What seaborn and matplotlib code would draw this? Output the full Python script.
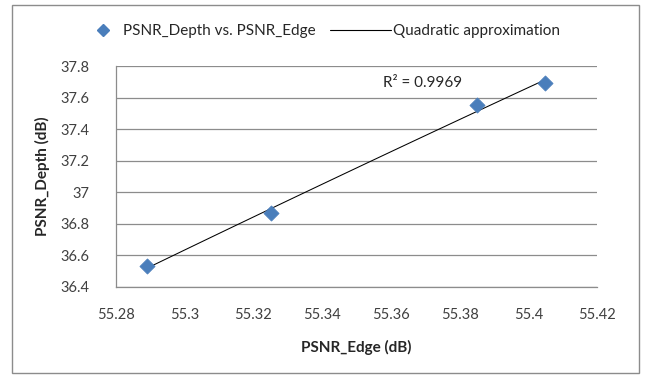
import numpy as np
import pandas as pd
import matplotlib
matplotlib.use("Agg")
import matplotlib.pyplot as plt
import seaborn as sns
from matplotlib.lines import Line2D
from matplotlib.patches import Rectangle

psnr_edge = [55.289, 55.325, 55.385, 55.405]
psnr_depth = [36.53, 36.87, 37.55, 37.69]
r2_label = "R² = 0.9969"
x_ticks = [55.28, 55.30, 55.32, 55.34, 55.36, 55.38, 55.40, 55.42]
x_tick_labels = ["55.28", "55.3", "55.32", "55.34", "55.36", "55.38", "55.4", "55.42"]
y_ticks = [36.4, 36.6, 36.8, 37.0, 37.2, 37.4, 37.6, 37.8]
y_tick_labels = ["36.4", "36.6", "36.8", "37", "37.2", "37.4", "37.6", "37.8"]

df = pd.DataFrame({"edge": psnr_edge, "depth": psnr_depth})

sns.set_theme(style="white")
plt.rcParams["font.family"] = ["Lato", "DejaVu Sans"]

W, H = 645, 379
fig = plt.figure(figsize=(W / 100, H / 100), dpi=100)
fig.patch.set_facecolor("white")
fig.add_artist(Rectangle((12 / W, 6 / H), 627 / W, 368 / H,
                         transform=fig.transFigure, fill=False,
                         edgecolor="#8c8c8c", linewidth=1.0))

ax = fig.add_axes([116 / W, 1 - 287 / H, 481 / W, 221 / H])

sns.regplot(data=df, x="edge", y="depth", order=2, ci=None, scatter=False,
            line_kws={"color": "black", "linewidth": 0.75}, ax=ax)
sns.scatterplot(data=df, x="edge", y="depth", marker="D", s=60,
                color="#4a7ebb", edgecolor="#4a7ebb", linewidth=0.5,
                ax=ax, zorder=3)

ax.set_xlim(55.28, 55.42)
ax.set_ylim(36.4, 37.8)
ax.set_xticks(x_ticks)
ax.set_xticklabels(x_tick_labels)
ax.set_yticks(y_ticks)
ax.set_yticklabels(y_tick_labels)
ax.tick_params(axis="both", length=0, labelsize=10.5, labelcolor="#404040")
ax.tick_params(axis="y", pad=19)
ax.tick_params(axis="x", pad=15)

ax.grid(axis="y", color="#8c8c8c", linewidth=0.9)
ax.grid(axis="x", visible=False)
ax.set_axisbelow(True)
for side in ["top", "right"]:
    ax.spines[side].set_visible(False)
for side in ["left", "bottom"]:
    ax.spines[side].set_color("#8c8c8c")
    ax.spines[side].set_linewidth(0.9)

ax.set_xlabel("PSNR_Edge (dB)", fontsize=11, fontweight="bold",
              color="#262626", labelpad=13)
ax.set_ylabel("PSNR_Depth (dB)", fontsize=11, fontweight="bold",
              color="#262626", labelpad=8)

ax.text(0.638, 0.923, r2_label, transform=ax.transAxes, fontsize=11,
        color="#262626", ha="center", va="center")

h_scatter = Line2D([], [], marker="D", linestyle="none", color="#4a7ebb",
                   markersize=6.5, label="PSNR_Depth vs. PSNR_Edge")
h_line = Line2D([], [], color="black", linewidth=0.8,
                label="Quadratic approximation")
leg1 = fig.legend(handles=[h_scatter], loc="center left",
                  bbox_to_anchor=(95 / W, 1 - 31 / H), frameon=False,
                  fontsize=11, handlelength=1.0, handletextpad=0.85,
                  borderpad=0, borderaxespad=0, labelcolor="#262626")
leg2 = fig.legend(handles=[h_line], loc="center left",
                  bbox_to_anchor=(330 / W, 1 - 31 / H), frameon=False,
                  fontsize=11, handlelength=4.0, handletextpad=0.15,
                  borderpad=0, borderaxespad=0, labelcolor="#262626")

fig.savefig("out.png", dpi=100, facecolor="white")
